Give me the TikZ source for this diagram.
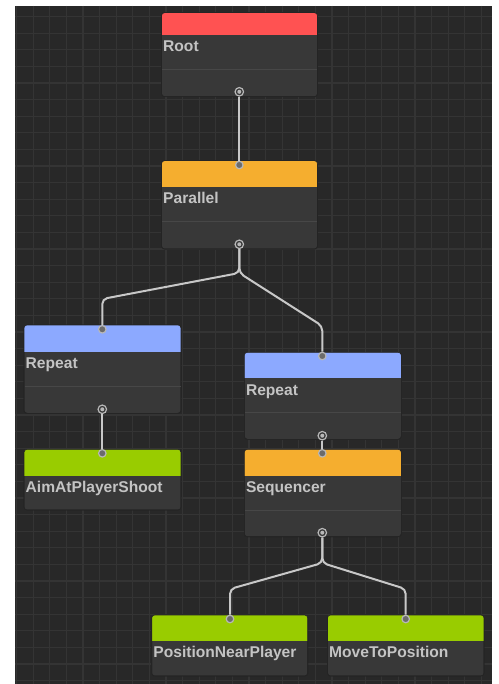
\documentclass[tikz,border=0pt]{standalone}
\usepackage{fontspec}
\setmainfont{Liberation Sans}
\definecolor{panelc}{HTML}{282828}
\definecolor{gridc}{HTML}{343434}
\definecolor{bodyc}{HTML}{383838}
\definecolor{edgec}{HTML}{242424}
\definecolor{sepc}{HTML}{474747}
\definecolor{txtc}{HTML}{C4C4C4}
\definecolor{wirec}{HTML}{C8C8C8}
\definecolor{portc}{HTML}{B8B8B8}
\definecolor{hred}{HTML}{FF5252}
\definecolor{horange}{HTML}{F5AE2F}
\definecolor{hblue}{HTML}{8CA9FF}
\definecolor{hgreen}{HTML}{99CC00}
\tikzset{
  boxbody/.style={draw=edgec, line width=0.6pt, fill=bodyc, rounded corners=3pt, inner sep=0pt, outer sep=0pt},
  ttl/.style={text=txtc, font=\bfseries\fontsize{15.6}{16}\selectfont, inner sep=0pt},
  sepline/.style={draw=sepc, line width=0.8pt},
  wire/.style={draw=wirec, line width=2pt, rounded corners=5pt},
  inport/.style={circle, minimum size=7.5pt, inner sep=0pt, draw=portc, line width=1.2pt, fill=bodyc!60!portc},
  outport/.style={circle, minimum size=8.5pt, inner sep=0pt, draw=portc, line width=1.2pt, fill=bodyc,
     path picture={\fill[portc] (path picture bounding box.center) circle (2pt);}},
  gridline/.style={draw=gridc, line width=1.1pt}
}
% #1 name, #2 x, #3 y, #4 width, #5 height, #6 header height, #7 colour, #8 title
\newcommand\btnode[8]{%
  \node[boxbody, minimum width=#4pt, minimum height=#5pt, anchor=north west] (#1) at (#2,#3) {};
  \begin{scope}
    \clip[rounded corners=3pt] (#1.north west) rectangle (#1.south east);
    \fill[#7] (#1.north west) rectangle ([yshift=-#6pt]#1.north east);
  \end{scope}
  \draw[edgec, line width=0.6pt, rounded corners=3pt] (#1.north west) rectangle (#1.south east);
  \node[ttl, anchor=base west] (#1-t) at ([xshift=1.5pt, yshift={-(#6pt+16.7pt)}]#1.north west) {#8};
}
\newcommand\btsep[2]{%
  \draw[sepline] ([xshift=0.5pt, yshift=-#2pt]#1.north west) -- ([xshift=-0.5pt, yshift=-#2pt]#1.north east);
}
\begin{document}
\begin{tikzpicture}[x=1pt, y=-1pt]
\useasboundingbox (0,0) rectangle (498,684);
\fill[white] (0,0) rectangle (498,684);
\fill[panelc] (15,6) rectangle (492,684);
\begin{scope}
  \clip (15,6) rectangle (492,684);
  \foreach \i in {1,...,29} \draw[gridline] (16.6*\i,6) -- (16.6*\i,684);
  \foreach \j in {1,...,41} \draw[gridline] (15,16.6*\j) -- (492,16.6*\j);
\end{scope}

% nodes
\btnode{root}{161.5}{12.7}{156}{84}{22.3}{hred}{Root}
\btsep{root}{56.6}
\btnode{par}{161.5}{160.7}{156}{88.3}{26.6}{horange}{Parallel}
\btsep{par}{61}
\btnode{repL}{24}{325}{157}{88.3}{26.7}{hblue}{Repeat}
\btsep{repL}{61.5}
\btnode{repR}{244.3}{352.3}{157}{87}{26}{hblue}{Repeat}
\btsep{repR}{60.4}
\btnode{aim}{24}{449.3}{157}{60.7}{26.7}{hgreen}{AimAtPlayerShoot}
\btnode{seq}{244.3}{449.3}{157}{87.4}{26.7}{horange}{Sequencer}
\btsep{seq}{60.7}
\btnode{pnp}{151.7}{615}{156}{61}{26}{hgreen}{PositionNearPlayer}
\btnode{mtp}{327.5}{615}{156.5}{61}{26}{hgreen}{MoveToPosition}

% ports
\node[outport] (rootOut) at (239.3,91.8) {};
\node[inport]  (parIn)   at (239.3,165) {};
\node[outport] (parOut)  at (239.3,244.3) {};
\node[inport]  (repLIn)  at (102.3,329.3) {};
\node[outport] (repLOut) at (102.3,409.3) {};
\node[inport]  (repRIn)  at (322.3,356) {};
\node[outport] (repROut) at (322.3,435.7) {};
\node[inport]  (aimIn)   at (102.3,453.3) {};
\node[inport]  (seqIn)   at (322.3,453.3) {};
\node[outport] (seqOut)  at (322.3,532.7) {};
\node[inport]  (pnpIn)   at (230,619) {};
\node[inport]  (mtpIn)   at (405.7,619) {};

% junctions
\coordinate (j1) at (239.3,273);
\coordinate (c1l) at (102.3,299);
\coordinate (c1r) at (322.3,326);
\coordinate (j2) at (322.3,563);
\coordinate (c2l) at (230,589);
\coordinate (c2r) at (405.7,589);

% connectors
\draw[wire] (rootOut) -- (parIn);
\draw[wire] (parOut) -- (j1) -- (c1l) -- (repLIn);
\draw[wire] (parOut) -- (j1) -- (c1r) -- (repRIn);
\draw[wire] (repLOut) -- (aimIn);
\draw[wire] (repROut) -- (seqIn);
\draw[wire] (seqOut) -- (j2) -- (c2l) -- (pnpIn);
\draw[wire] (seqOut) -- (j2) -- (c2r) -- (mtpIn);
\end{tikzpicture}
\end{document}
